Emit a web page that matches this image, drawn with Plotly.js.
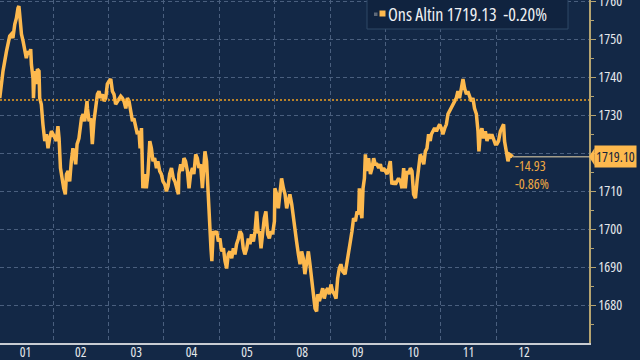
<!DOCTYPE html>
<html>
<head>
<meta charset="utf-8">
<script src="https://cdn.plot.ly/plotly-3.0.1.min.js"></script>
<style>
html,body{margin:0;padding:0;background:#132846;}
#chart{width:640px;height:360px;}
text, tspan{font-stretch:80%;}
</style>
</head>
<body>
<div id="chart"></div>
<script>
// Day labels (trading days, weekend 06-07 skipped)
const dayLabels = ['01','02','03','04','05','08','09','10','11','12'];
// Intraday readings per day: [hour of day, price]
const d01 = [[0.9,1734.5],[1.6,1738.9],[2.3,1741.6],[3.8,1746.8],[4.5,1749.5],[5.2,1750.8],[5.9,1751.3],[6.6,1750.3],[7.4,1753.9],[8.1,1755.5],[8.8,1758.2],[9.2,1758.7],[9.8,1754.7],[10.3,1751.3],[11.0,1749.5],[11.7,1746.8],[12.4,1745.0],[13.1,1746.8],[13.9,1746.1],[14.3,1747.4],[14.6,1743.4],[15.3,1739.7],[15.5,1734.5],[16.0,1741.6],[16.8,1738.2],[17.2,1742.1],[17.9,1741.6],[18.2,1734.5],[18.9,1732.9],[19.6,1727.6],[20.4,1723.2],[21.1,1725.0],[21.8,1721.3],[22.5,1723.9],[23.3,1725.8]];
const d02 = [[0.0,1725.0],[0.7,1723.9],[1.4,1723.2],[2.1,1727.1],[2.6,1723.9],[3.2,1716.1],[3.9,1712.6],[4.6,1710.8],[5.3,1709.2],[5.8,1714.5],[6.5,1715.3],[7.2,1712.6],[7.9,1717.9],[8.6,1721.3],[9.4,1718.7],[9.8,1717.1],[10.4,1722.4],[11.2,1723.9],[12.3,1729.2],[13.0,1730.3],[13.7,1728.4],[14.7,1733.7],[14.9,1731.8],[15.6,1728.4],[16.3,1729.2],[17.0,1722.4],[17.7,1728.4],[18.5,1731.8],[19.2,1735.5],[19.9,1736.3],[20.6,1734.5],[21.4,1735.5],[22.1,1733.7],[22.8,1734.5],[23.5,1738.2]];
const d03 = [[0.2,1738.9],[1.0,1739.5],[1.7,1736.3],[2.4,1735.5],[3.1,1732.9],[3.9,1733.7],[4.6,1734.5],[5.3,1735.0],[6.0,1734.5],[6.7,1733.7],[7.5,1731.8],[8.2,1734.5],[8.9,1733.7],[9.6,1731.1],[10.4,1728.4],[11.0,1729.2],[11.8,1726.6],[12.5,1725.0],[13.2,1725.8],[13.7,1721.3],[14.3,1726.6],[14.7,1718.7],[14.9,1710.8],[15.7,1714.5],[16.4,1710.8],[17.1,1714.5],[17.9,1723.2],[18.6,1721.3],[19.3,1717.9],[20.0,1718.7],[20.8,1716.1],[21.4,1717.9],[22.2,1715.3],[22.9,1714.5],[23.6,1712.6]];
const d04 = [[0.4,1711.8],[1.1,1710.0],[1.8,1711.3],[2.5,1714.5],[3.3,1716.1],[4.1,1713.4],[4.8,1712.6],[5.5,1710.8],[6.3,1709.2],[6.5,1714.5],[7.3,1717.1],[8.0,1715.3],[8.7,1718.7],[9.4,1717.9],[10.2,1715.3],[10.9,1710.8],[11.6,1714.5],[12.4,1716.1],[13.0,1714.5],[13.8,1719.7],[14.5,1718.7],[15.2,1716.1],[15.9,1717.1],[16.7,1710.8],[17.4,1719.7],[17.8,1720.5],[18.5,1717.9],[19.0,1710.8],[19.5,1704.0],[20.0,1700.3],[20.4,1695.0],[20.8,1691.6],[21.4,1699.5],[22.1,1698.7],[22.9,1699.5],[23.6,1696.8]];
const d05 = [[0.3,1697.6],[1.0,1694.2],[1.8,1695.0],[2.5,1691.6],[3.2,1689.7],[3.9,1693.4],[4.6,1694.2],[5.4,1692.4],[6.1,1695.0],[6.8,1693.4],[7.5,1696.1],[8.3,1697.6],[9.0,1699.5],[9.7,1698.7],[10.4,1695.0],[11.1,1693.4],[11.9,1695.0],[12.6,1697.6],[13.3,1696.1],[14.0,1698.7],[14.8,1696.8],[15.5,1699.5],[16.2,1704.7],[16.9,1698.9],[17.4,1699.5],[18.1,1695.0],[18.8,1699.5],[19.5,1702.9],[20.2,1704.7],[21.0,1698.7],[21.7,1697.6],[22.4,1699.5],[23.1,1698.7],[23.9,1702.1]];
const d08 = [[0.1,1710.8],[0.9,1709.2],[1.6,1705.5],[2.3,1709.2],[3.0,1713.4],[3.8,1710.8],[4.5,1709.2],[5.2,1705.5],[5.9,1707.4],[6.6,1709.2],[7.4,1706.6],[8.1,1702.9],[8.8,1700.3],[9.5,1696.8],[10.3,1693.4],[11.0,1690.8],[11.7,1694.2],[12.4,1692.4],[13.1,1688.2],[13.9,1692.4],[14.6,1694.2],[15.3,1690.8],[16.0,1687.1],[16.8,1682.9],[17.5,1679.2],[18.2,1678.4],[18.6,1682.9],[19.4,1681.1],[20.1,1682.9],[20.8,1684.5],[21.5,1681.8],[22.2,1683.7],[23.0,1684.5],[23.7,1682.9]];
const d09 = [[0.4,1685.5],[1.1,1683.7],[1.9,1682.9],[2.6,1681.8],[3.3,1687.1],[4.0,1689.7],[4.7,1690.8],[5.5,1688.9],[6.5,1688.2],[7.3,1690.8],[8.1,1693.4],[8.8,1696.8],[9.5,1699.5],[10.2,1702.9],[11.0,1702.1],[11.7,1704.7],[12.4,1703.9],[12.7,1710.8],[13.1,1705.5],[13.8,1702.9],[14.3,1710.8],[14.9,1713.4],[15.3,1719.7],[16.0,1715.3],[16.7,1718.7],[17.5,1714.5],[18.2,1716.1],[18.9,1718.7],[19.6,1717.1],[20.3,1717.1],[21.1,1716.1],[21.8,1717.1],[22.5,1715.3],[23.2,1716.1]];
const d10 = [[0.0,1715.3],[0.7,1714.5],[1.4,1716.1],[2.1,1717.9],[2.8,1711.8],[3.6,1712.6],[4.3,1711.8],[5.0,1712.6],[5.7,1713.4],[6.5,1712.6],[7.2,1710.8],[7.9,1716.1],[8.6,1710.8],[9.3,1715.3],[10.1,1714.5],[10.8,1716.1],[11.5,1715.3],[12.2,1709.2],[13.0,1708.2],[13.7,1712.6],[14.4,1716.1],[15.1,1719.7],[15.8,1718.7],[16.6,1717.1],[17.3,1720.5],[18.0,1721.3],[18.7,1725.0],[19.4,1723.2],[19.9,1725.0],[20.6,1725.8],[21.3,1726.6],[22.1,1725.8],[22.7,1726.6],[23.5,1727.6]];
const d11 = [[0.2,1726.6],[0.9,1725.0],[1.7,1726.6],[2.4,1727.6],[3.1,1730.3],[3.8,1731.1],[4.6,1731.8],[5.2,1732.9],[6.0,1733.7],[6.7,1734.5],[7.4,1736.3],[8.1,1734.5],[8.9,1737.1],[9.6,1739.5],[10.3,1737.1],[11.1,1735.5],[11.7,1736.3],[12.5,1734.5],[13.2,1733.7],[13.9,1734.5],[14.6,1731.8],[15.4,1730.3],[16.1,1725.8],[16.5,1720.5],[17.1,1725.0],[17.8,1726.6],[18.5,1723.9],[19.3,1725.8],[20.0,1723.2],[20.7,1725.0],[21.5,1723.9],[22.1,1725.0],[22.9,1723.2],[23.6,1722.4]];
const d12 = [[0.3,1722.4],[1.0,1723.2],[1.8,1725.8],[2.5,1726.6],[3.2,1727.6],[3.6,1723.2],[4.4,1719.7],[5.1,1717.9],[5.8,1719.7],[6.6,1719.2],[7.2,1719.1]];

const seriesName = 'Ons Altin';
const legendPrice = '1719.13';
const legendChange = '-0.20%';
const prevClose = 1734.03;
const priceTicks = [1680, 1690, 1700, 1710, 1720, 1730, 1740, 1750, 1760];

const days = [d01,d02,d03,d04,d05,d08,d09,d10,d11,d12];
const xs = [], ys = [];
days.forEach((d, i) => d.forEach(p => { xs.push(i*24 + p[0]); ys.push(p[1]); }));
const lastX = xs[xs.length-1], lastY = ys[ys.length-1];
const chg = lastY - prevClose;
const chgPct = chg / prevClose * 100;

const xMin = 1.0, xMax = 256.2;
const yMin = 1670.1, yMax = 1760.3;
const labelVals = dayLabels.map((_, i) => i*24 + 12);
const boundVals = dayLabels.slice(1).map((_, i) => (i+1)*24);
// the price tag covers the tick label nearest the last price
const tagged = priceTicks.reduce((a, b) => Math.abs(b - lastY) < Math.abs(a - lastY) ? b : a);
const priceText = priceTicks.map(v => v === tagged ? '' : String(v));

const FONT = '"Open Sans", "Noto Sans", sans-serif';
const gold = '#fdb94e';
const gridC = '#4a5f7e';
const axisTan = '#b5a470';
const plotW = 589, plotH = 343;

const trace = {
  x: xs, y: ys, type: 'scatter', mode: 'lines',
  line: {color: gold, width: 3.5}, hoverinfo: 'skip'
};

const layout = {
  width: 640, height: 360,
  margin: {l: 0, r: 51, t: 0, b: 17},
  paper_bgcolor: '#132846', plot_bgcolor: '#132846',
  showlegend: false,
  font: {family: FONT, color: '#e6e8ec', size: 13},
  xaxis: {
    range: [xMin, xMax], tickmode: 'array', tickvals: labelVals, ticktext: dayLabels,
    showgrid: false, zeroline: false, ticks: '', ticklabelstandoff: -4, ticklabeloverflow: 'allow',
    showline: true, linecolor: '#c8ccd2', linewidth: 1.5,
    tickfont: {family: FONT, size: 13.5, color: '#e6e8ec'},
    minor: {tickmode: 'array', tickvals: boundVals, showgrid: true, gridcolor: gridC, gridwidth: 1, griddash: '4px,3px', ticks: ''}
  },
  yaxis: {
    side: 'right', range: [yMin, yMax], tickmode: 'array', tickvals: priceTicks, ticktext: priceText,
    ticklabeloverflow: 'allow',
    showgrid: true, gridcolor: gridC, gridwidth: 1, griddash: '4px,3px', zeroline: false,
    showline: true, linecolor: axisTan, linewidth: 1.5,
    ticks: 'outside', ticklen: 5, tickcolor: axisTan, tickwidth: 1,
    minor: {dtick: 5, tick0: 1675, ticks: 'outside', ticklen: 3, tickcolor: axisTan, showgrid: false},
    tickfont: {family: FONT, size: 14, color: '#e6e8ec'}
  },
  shapes: [
    {type: 'line', xref: 'paper', x0: 0, x1: 1, yref: 'y', y0: prevClose, y1: prevClose,
     line: {color: '#f0a020', width: 1.5, dash: '2px,2px'}},
    {type: 'line', xref: 'x', x0: lastX, x1: xMax, yref: 'y', y0: lastY, y1: lastY,
     line: {color: '#a39d8a', width: 1.5}},
    {type: 'path', xref: 'paper', yref: 'y',
     path: `M 1.0 ${lastY} L 1.0095 ${lastY + 2.3} L 1.0095 ${lastY - 2.3} Z`,
     fillcolor: gold, line: {width: 0}},
    // legend box
    {type: 'rect', xref: 'paper', yref: 'paper', x0: 367/plotW, x1: 568/plotW, y0: 1 - 29/plotH, y1: 1 + 5/plotH,
     fillcolor: '#10233f', line: {color: '#2f4866', width: 1}},
    {type: 'rect', xref: 'paper', yref: 'paper', x0: 374/plotW, x1: 377.5/plotW, y0: 1 - 16/plotH, y1: 1 - 12.5/plotH,
     fillcolor: '#5d6878', line: {width: 0}},
    {type: 'rect', xref: 'paper', yref: 'paper', x0: 379.5/plotW, x1: 385.5/plotW, y0: 1 - 16.5/plotH, y1: 1 - 10.5/plotH,
     fillcolor: gold, line: {width: 0}}
  ],
  annotations: [
    {xref: 'paper', yref: 'y', x: 1.0085, y: lastY, xanchor: 'left', yanchor: 'middle',
     text: lastY.toFixed(2), showarrow: false, bgcolor: gold, borderpad: 1,
     font: {family: FONT, size: 14, color: '#14233a'}},
    {xref: 'x', yref: 'y', x: lastX, y: lastY, xanchor: 'left', yanchor: 'top', xshift: 0, yshift: 3,
     align: 'left', showarrow: false, text: chg.toFixed(2) + '<br>' + chgPct.toFixed(2) + '%',
     font: {family: FONT, size: 14, color: '#f0a843'}},
    {xref: 'paper', yref: 'paper', x: 386/plotW, y: 1 - 14/plotH, xanchor: 'left', yanchor: 'middle',
     showarrow: false, text: seriesName + ' ' + legendPrice + '&nbsp;&nbsp;' + legendChange,
     font: {family: FONT, size: 18, color: '#eef0f3'}}
  ]
};

Plotly.newPlot('chart', [trace], layout, {displayModeBar: false, staticPlot: true});
</script>
</body>
</html>
